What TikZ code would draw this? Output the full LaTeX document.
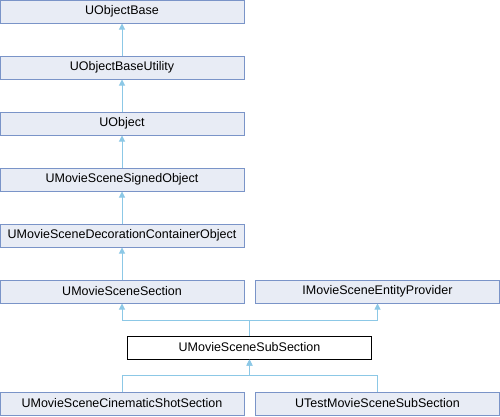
\documentclass[tikz,border=0pt]{standalone}
\usepackage{fontspec}
\setmainfont{Liberation Sans}
\usetikzlibrary{arrows.meta}
\definecolor{boxfill}{RGB}{232,236,245}
\definecolor{boxline}{RGB}{122,148,200}
\definecolor{edgeblue}{RGB}{140,200,230}
\begin{document}
\begin{tikzpicture}[x=1pt,y=-1pt,
  cls/.style={draw=boxline,fill=boxfill,line width=1pt,minimum height=23pt,
    minimum width=244pt,inner sep=0pt,font=\fontsize{12.5}{15}\selectfont},
  cur/.style={cls,draw=black,fill=white},
  arr/.style={draw=edgeblue,line width=1pt,
    -{Triangle[length=6pt,width=6pt,fill=edgeblue]}}]
\useasboundingbox (0,0) rectangle (500,416);
% left column
\node[cls] (base) at (122,11.5) {UObjectBase};
\node[cls] (util) at (122,67.5) {UObjectBaseUtility};
\node[cls] (obj) at (122,123.5) {UObject};
\node[cls] (signed) at (122,179.5) {UMovieSceneSignedObject};
\node[cls] (deco) at (122,235.5) {UMovieSceneDecorationContainerObject};
\node[cls] (sec) at (122,291.5) {UMovieSceneSection};
\node[cls] (prov) at (377.5,291.5) {IMovieSceneEntityProvider};
\node[cur] (sub) at (249.5,347.5) {UMovieSceneSubSection};
\node[cls] (cine) at (122,403.5) {UMovieSceneCinematicShotSection};
\node[cls] (test) at (377.5,403.5) {UTestMovieSceneSubSection};
% inheritance
\draw[arr] (util.north) -- (base.south);
\draw[arr] (obj.north) -- (util.south);
\draw[arr] (signed.north) -- (obj.south);
\draw[arr] (deco.north) -- (signed.south);
\draw[arr] (sec.north) -- (deco.south);
\draw[arr] (sub.north) -- ++(0,-15) -| (sec.south);
\draw[arr] (sub.north) -- ++(0,-15) -| (prov.south);
\draw[arr] (cine.north) -- ++(0,-16) -| (sub.south);
\draw[arr] (test.north) -- ++(0,-16) -| (sub.south);
\end{tikzpicture}
\end{document}
